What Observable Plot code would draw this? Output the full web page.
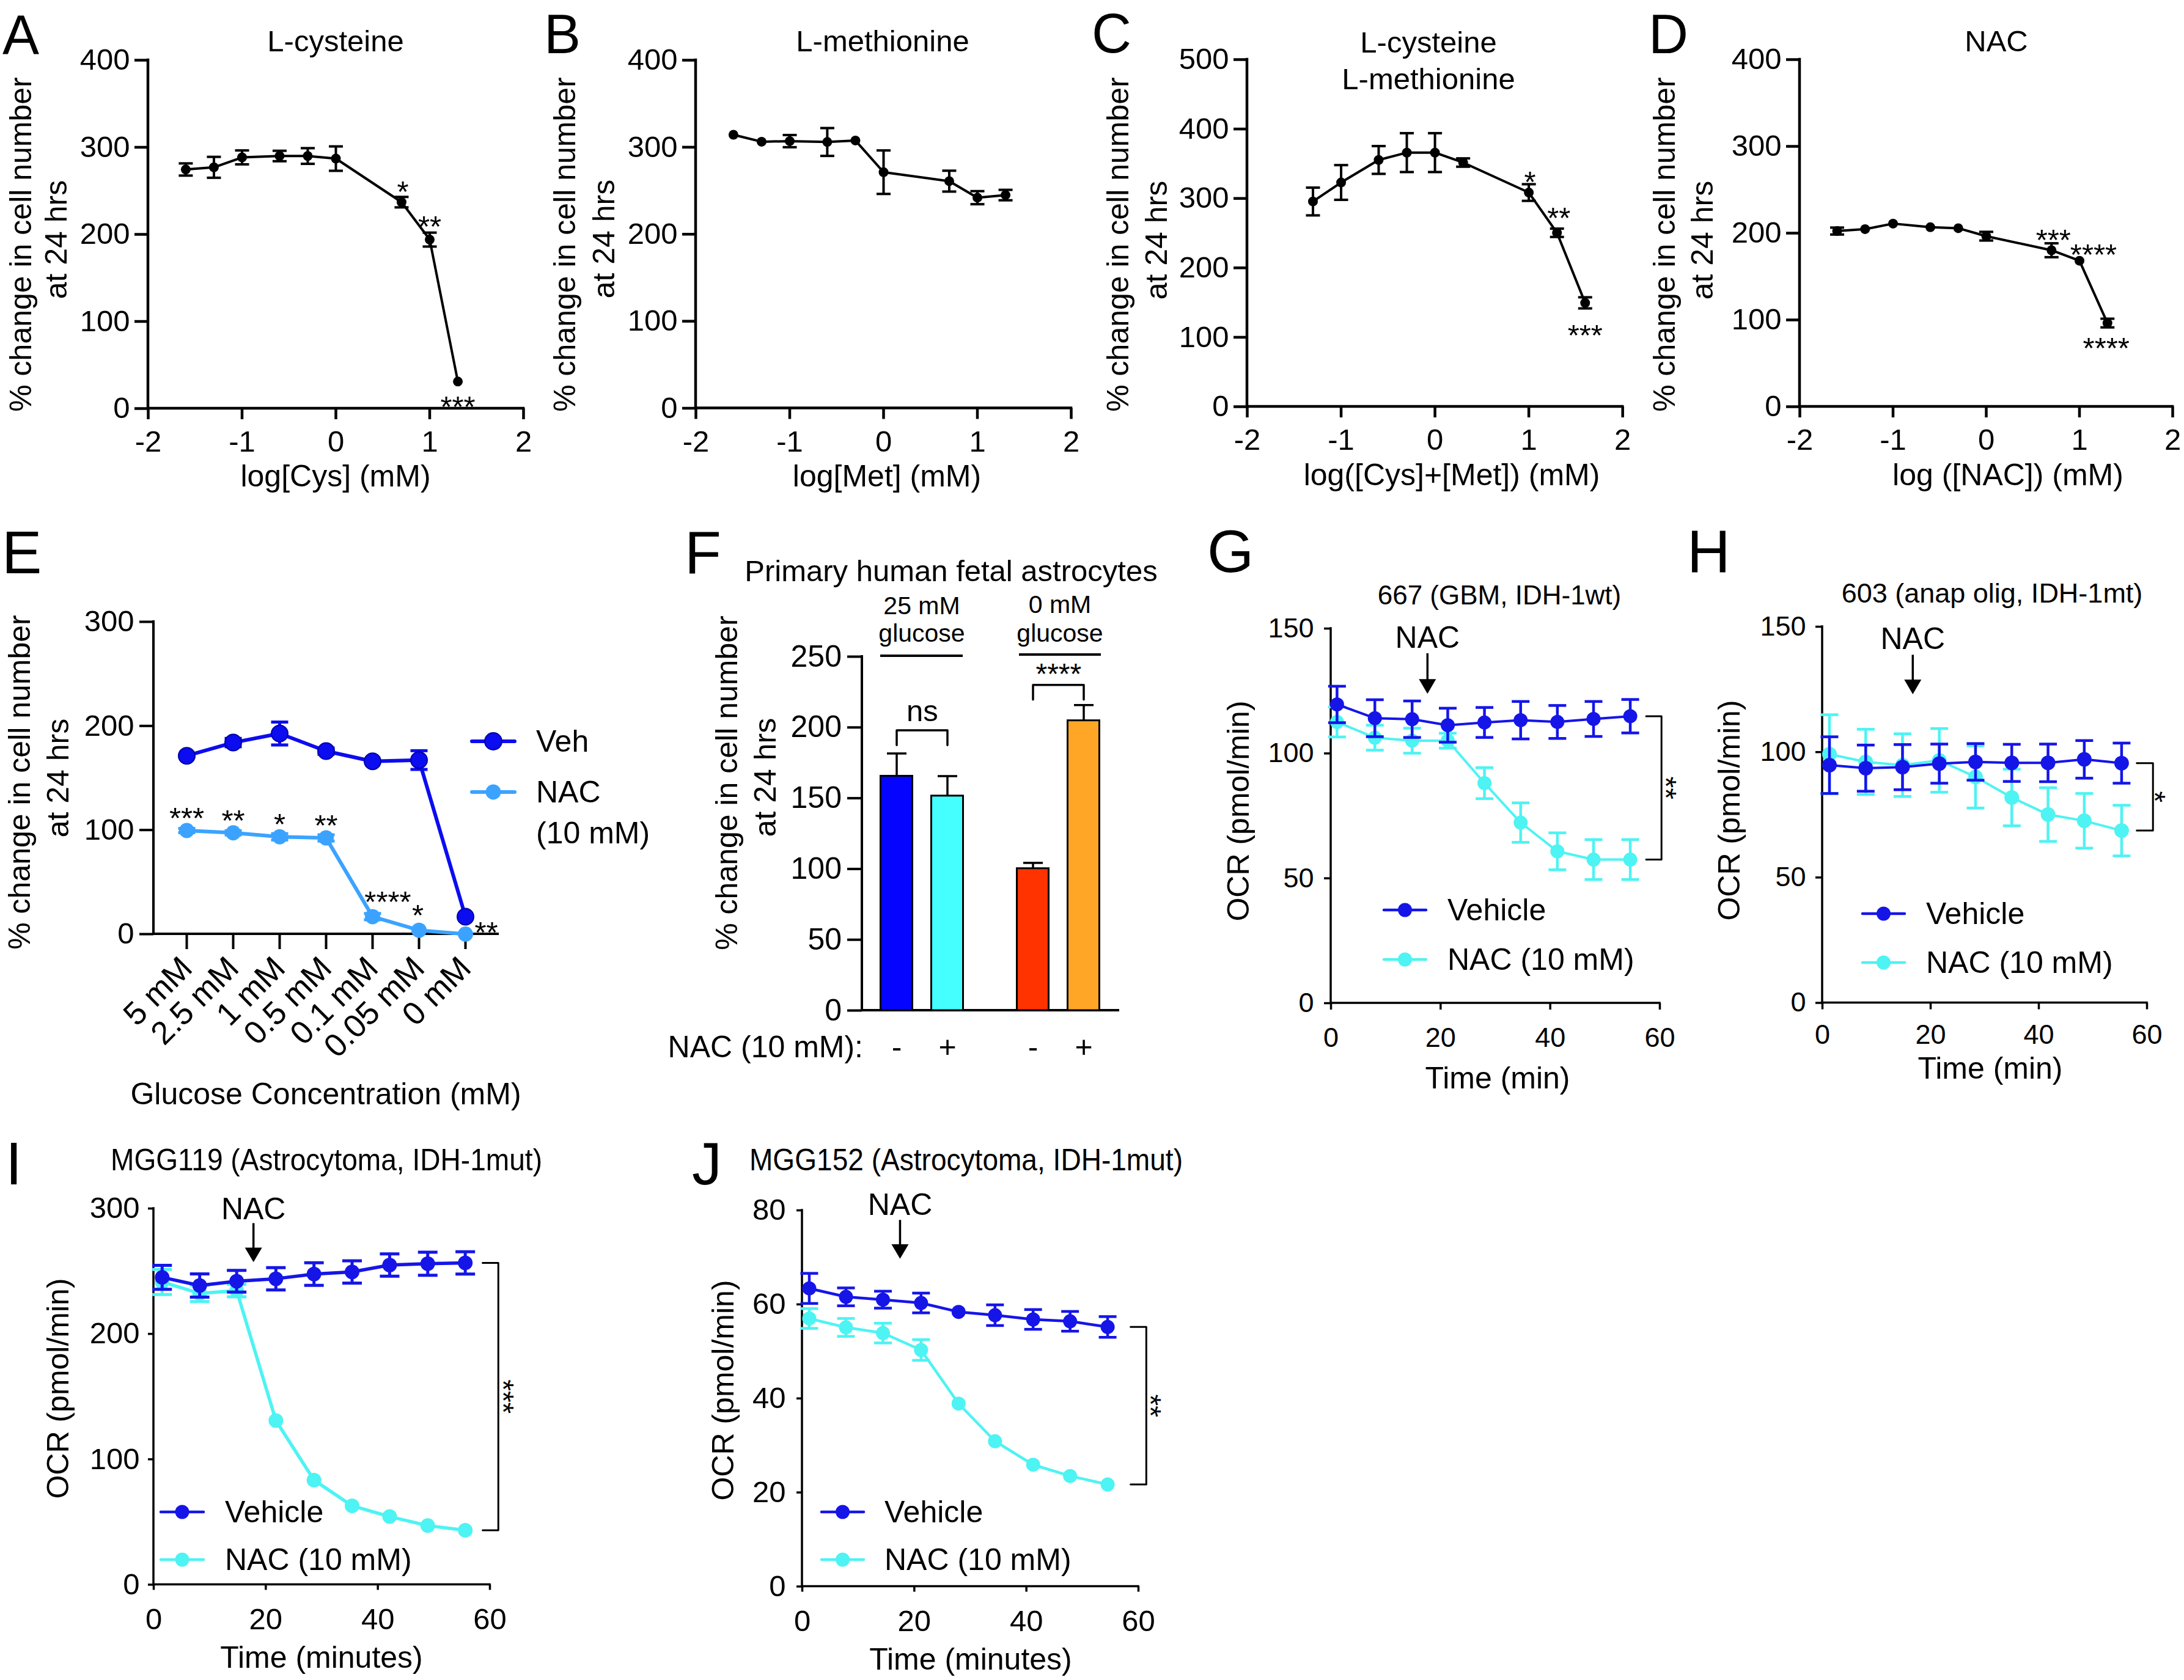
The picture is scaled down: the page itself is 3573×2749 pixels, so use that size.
<!DOCTYPE html>
<html>
<head>
<meta charset="utf-8">
<script src="https://cdn.jsdelivr.net/npm/d3@7"></script>
<script src="https://cdn.jsdelivr.net/npm/@observablehq/plot@0.6"></script>
<style>
html,body{margin:0;padding:0;background:#fff;}
#page{position:relative;width:3573px;height:2749px;overflow:hidden;background:#fff;}
</style>
</head>
<body>
<div id="page"></div>
<script>
// ================= DATA =================
// A–D: % change in cell number at 24 hrs vs log10 concentration (mM)
const logCys    = [-1.6, -1.3, -1, -0.6, -0.3, 0, 0.7, 1, 1.3];
const cysMean   = [274.5, 277, 288.4, 290, 290, 287, 237, 194, 31];
const cysSem    = [7, 12, 8, 6, 9, 14, 6, 8, 0];
const logMet    = [-1.6, -1.3, -1, -0.6, -0.3, 0, 0.7, 1, 1.3];
const metMean   = [314.3, 306.3, 307, 306, 307.7, 271.3, 261, 242, 245];
const metSem    = [0, 0, 7, 16, 0, 25, 12, 7.5, 6];
const logCysMet = [-1.3, -1, -0.6, -0.3, 0, 0.3, 1, 1.3, 1.6];
const cysMetMean= [295.6, 323, 355.4, 366, 366, 351.7, 308.5, 250.5, 149.6];
const cysMetSem = [20, 25, 20, 28, 28, 6, 12, 6, 8];
const logNac    = [-1.6, -1.3, -1, -0.6, -0.3, 0, 0.7, 1, 1.3];
const nacMean   = [202.4, 204.6, 211, 206.8, 205.7, 196.5, 180.3, 168.2, 96.4];
const nacSem    = [4, 0, 0, 0, 0, 5, 8, 0, 5];
const starsA = [{x: 0.7, label: "*"}, {x: 1, label: "**"}, {x: 1.3, label: "***"}];
const starsC = [{x: 1, label: "*"}, {x: 1.3, label: "**"}, {x: 1.6, label: "***"}];
const starsD = [{x: 0.7, label: "***"}, {x: 1, label: "****"}, {x: 1.3, label: "****"}];

// E: glucose concentration
const glucose  = ["5 mM", "2.5 mM", "1 mM", "0.5 mM", "0.1 mM", "0.05 mM", "0 mM"];
const eVeh     = [171.3, 184, 192.7, 175.8, 166, 167.2, 16.8];
const eVehSem  = [0, 4, 11, 3, 0, 9, 0];
const eNac     = [99.5, 97.3, 93.5, 92.4, 16.8, 3.7, 0];
const eNacSem  = [2, 2, 3, 3, 3, 0, 0];
const starsE   = ["***", "**", "*", "**", "****", "*", "**"];

// F: primary human fetal astrocytes
const fGroups = ["25 mM", "0 mM"];
const fNac    = ["-", "+"];
const fMean   = [[165.6, 151.6], [100.3, 204.8]];
const fSem    = [[16, 14], [4, 11]];
const fSig    = [{label: "ns", top: 198, foot: 187.5}, {label: "****", top: 230, foot: 219.7}];

// G–J: OCR time courses
const tG = [1.1, 8, 14.8, 21.3, 28, 34.6, 41.3, 47.9, 54.6];
const gVeh = [119.6, 114.1, 113.7, 111.3, 112.4, 113.3, 112.6, 113.8, 114.9];
const gVehSem = [7.3, 7.4, 7.3, 6.8, 6, 7.5, 6.6, 7, 6.7];
const gNac = [112.6, 106.3, 105.1, 105.1, 88.1, 72.3, 60.8, 57.5, 57.5];
const gNacSem = [6, 5, 5, 3, 6.2, 7.9, 7.4, 8, 8];

const tH = [1.3, 8, 14.8, 21.6, 28.3, 35, 41.7, 48.4, 55.3];
const hVeh = [94.8, 93.6, 94.0, 95.4, 96.1, 95.7, 95.7, 97.1, 95.6];
const hVehSem = [11.3, 9.2, 9, 7.8, 7.3, 7.4, 7.5, 7.5, 8];
const hNac = [99.2, 96.1, 94.8, 96.7, 90.1, 81.9, 75.1, 72.6, 68.7];
const hNacSem = [15.7, 13, 12.5, 12.7, 12.4, 11.3, 10.7, 10.9, 10.1];

const tI = [1.5, 8.2, 14.8, 21.8, 28.6, 35.4, 42.1, 48.9, 55.6];
const iVeh = [245.1, 238.6, 242, 244, 247.7, 249.4, 254.9, 256, 256.6];
const iVehSem = [9.6, 9.3, 8.6, 8.9, 9, 8.9, 8.9, 9.2, 8.9];
const iNac = [241.4, 232.3, 234.6, 130.9, 83.4, 62.9, 54.3, 47.1, 43.4];
const iNacSem = [10, 6.5, 5, 0, 0, 0, 0, 0, 0];

const tJ = [1.25, 7.8, 14.4, 21.2, 27.9, 34.4, 41.2, 47.8, 54.5];
const jVeh = [63.4, 61.6, 61, 60.3, 58.4, 57.7, 56.8, 56.4, 55.2];
const jVehSem = [3.2, 1.9, 1.8, 2.1, 0, 2.2, 2.1, 2.1, 2.2];
const jNac = [57, 55.1, 53.9, 50.3, 38.9, 30.9, 25.9, 23.5, 21.7];
const jNacSem = [2.1, 1.9, 2.1, 2.2, 0, 0, 0, 0, 0];

// NAC injection annotations (time, data-space arrow top/tip and label baseline)
const arrowG = {t: 17.6, top: 140, tip: 123.9, label: 142.3};
const arrowH = {t: 16.7, top: 138.7, tip: 123.1, label: 141.2};
const arrowI = {t: 17.8, top: 288.1, tip: 257.2, label: 291.5};
const arrowJ = {t: 17.45, top: 77.9, tip: 69.7, label: 79.0};

// ================= STYLE / LAYOUT =================
const FONT = `"Liberation Sans", Arial, Helvetica, sans-serif`;
const BLACK = "#000";
const VEH = "#1515e8", NACC = "#4ef3f3";
const E_VEH = "#0c0cf0", E_NAC = "#3ba3ff";
const fColors = [["#0505ff", "#45ffff"], ["#ff3300", "#ffa626"]];
const M = {l: 200, r: 120, t: 80, b: 170};
const frames = {
  A: {l: 242, r: 856, t: 98, b: 668},
  B: {l: 1138, r: 1752, t: 97.5, b: 667},
  C: {l: 2039.5, r: 2653.7, t: 97, b: 665},
  D: {l: 2944, r: 3554, t: 97, b: 665},
  E: {l: 251, r: 814, t: 1017, b: 1528},
  F: {l: 1410, r: 1829, t: 1074, b: 1653},
  G: {l: 2177, r: 2715, t: 1028, b: 1641},
  H: {l: 2981, r: 3512, t: 1024.5, b: 1640},
  I: {l: 251, r: 801, t: 1976.5, b: 2592},
  J: {l: 1312, r: 1862, t: 1979.5, b: 2595}
};
const page = document.getElementById("page");

const capSym = {draw(ctx, size) { const r = Math.sqrt(size / Math.PI); ctx.moveTo(-r, 0); ctx.lineTo(r, 0); }};
const triDown = {draw(ctx, size) { const r = Math.sqrt(size / Math.PI); const h = 1.7 * r; ctx.moveTo(-r, -h); ctx.lineTo(r, -h); ctx.lineTo(0, 0); ctx.closePath(); }};

function axisLines(sw) {
  return (index, scales, values, dim) => {
    const g = d3.create("svg:g");
    const x0 = dim.marginLeft, x1 = dim.width - dim.marginRight;
    const y0 = dim.marginTop, y1 = dim.height - dim.marginBottom;
    g.append("path").attr("d", `M${x0},${y0}V${y1}H${x1}`).attr("fill", "none")
      .attr("stroke", BLACK).attr("stroke-width", sw).attr("stroke-linecap", "square");
    return g.node();
  };
}

function mk(frame, opts, fs) {
  const width = frame.r - frame.l + M.l + M.r;
  const height = frame.b - frame.t + M.t + M.b;
  const svg = Plot.plot({
    width, height, marginLeft: M.l, marginRight: M.r, marginTop: M.t, marginBottom: M.b,
    style: `font-family:${FONT};font-size:${fs}px;color:#000;background:transparent;overflow:visible;max-width:none;`,
    ...opts
  });
  const div = document.createElement("div");
  div.style.cssText = `position:absolute;left:${frame.l - M.l}px;top:${frame.t - M.t}px;width:${width}px;height:${height}px;`;
  div.appendChild(svg);
  page.appendChild(div);
  return svg;
}

function seriesMarks(rows, st) {
  const err = rows.filter(d => d.e > 0);
  return [
    Plot.ruleX(err, {x: "x", y1: d => d.y - d.e, y2: d => d.y + d.e, stroke: st.color, strokeWidth: st.ew}),
    Plot.dot(err, {x: "x", y: d => d.y + d.e, symbol: capSym, r: st.cap, stroke: st.color, strokeWidth: st.ew, fill: "none"}),
    Plot.dot(err, {x: "x", y: d => d.y - d.e, symbol: capSym, r: st.cap, stroke: st.color, strokeWidth: st.ew, fill: "none"}),
    Plot.line(rows, {x: "x", y: "y", stroke: st.color, strokeWidth: st.lw}),
    Plot.dot(rows, {x: "x", y: "y", r: st.r, fill: st.color, stroke: st.dotStroke || "none", strokeWidth: st.dotStroke ? 2 : 0})
  ];
}

// ---------- A–D ----------
function dosePanel(key, xs, ys, es, yTicks, stars, offsets) {
  const rows = xs.map((x, i) => ({x, y: ys[i], e: es[i]}));
  const starMarks = stars.map((s, i) => Plot.text([{x: s.x, y: ys[xs.indexOf(s.x)], label: s.label}],
    {x: "x", y: "y", text: "label", dx: offsets[i][0], dy: offsets[i][1], fontSize: 49}));
  mk(frames[key], {
    x: {domain: [-2, 2]},
    y: {domain: [yTicks[0], yTicks[yTicks.length - 1]]},
    marks: [
      axisLines(4.5),
      Plot.axisY({ticks: yTicks, tickSize: 22, tickPadding: 8, strokeWidth: 4.5, fontSize: 49, label: null}),
      Plot.axisX({ticks: [-2, -1, 0, 1, 2], tickSize: 18, tickPadding: 18, strokeWidth: 4.5, fontSize: 49, label: null, tickFormat: d => String(d)}),
      ...seriesMarks(rows, {color: BLACK, ew: 4, cap: 11.5, lw: 4, r: 8}),
      ...starMarks
    ]
  }, 49);
}
dosePanel("A", logCys, cysMean, cysSem, [0, 100, 200, 300, 400], starsA, [[2, -16], [0, -20.5], [0, 41.5]]);
dosePanel("B", logMet, metMean, metSem, [0, 100, 200, 300, 400], [], []);
dosePanel("C", logCysMet, cysMetMean, cysMetSem, [0, 100, 200, 300, 400, 500], starsC, [[2, -16.7], [3, -24], [0, 54]]);
dosePanel("D", logNac, nacMean, nacSem, [0, 100, 200, 300, 400], starsD, [[3, -16.5], [23, -9.5], [-2, 41.8]]);

// ---------- E ----------
{
  const veh = glucose.map((c, i) => ({x: c, y: eVeh[i], e: eVehSem[i]}));
  const nac = glucose.map((c, i) => ({x: c, y: eNac[i], e: eNacSem[i]}));
  const starOff = [[0, -19.5], [0, -19.5], [0, -19.5], [0, -19.5], [25, -23.5], [-2, -23.5], [34, -2.5]];
  const stars = glucose.map((c, i) => Plot.text([{x: c, y: eNac[i], label: starsE[i]}],
    {x: "x", y: "y", text: "label", dx: starOff[i][0], dy: starOff[i][1], fontSize: 49}));
  mk(frames.E, {
    x: {type: "point", domain: glucose, padding: 0.675},
    y: {domain: [0, 300]},
    marks: [
      axisLines(4),
      Plot.axisY({ticks: [0, 100, 200, 300], tickSize: 23, tickPadding: 9, strokeWidth: 4, fontSize: 49, label: null}),
      Plot.axisX({tickRotate: -45, tickSize: 25, tickPadding: 22, strokeWidth: 4, fontSize: 53, label: null}),
      ...seriesMarks(nac, {color: E_NAC, ew: 5, cap: 14, lw: 6, r: 12.5}),
      ...seriesMarks(veh, {color: E_VEH, ew: 5, cap: 14, lw: 6, r: 13.5, dotStroke: "#0000a8"}),
      ...stars
    ]
  }, 49);
}

// ---------- F ----------
{
  const padIn = 0.37, padOut = 0.69, shift = 28.5;
  const fr = frames.F;
  const step = (fr.r - fr.l) / (4 - padIn + 2 * padOut);
  const rows = fGroups.flatMap((g, gi) => fNac.map((n, ni) => ({
    group: g, nac: n, cond: g + " " + n, value: fMean[gi][ni], e: fSem[gi][ni], color: fColors[gi][ni]
  })));
  const marks = [axisLines(4),
    Plot.axisY({ticks: [0, 50, 100, 150, 200, 250], tickSize: 24, tickPadding: 9.5, strokeWidth: 4, fontSize: 50, label: null})];
  fGroups.forEach((g, gi) => {
    const dx = gi === 0 ? -shift : shift;
    const gr = rows.filter(d => d.group === g);
    const s = fSig[gi];
    marks.push(
      Plot.barY(gr, {x: "cond", y: "value", fill: "color", stroke: BLACK, strokeWidth: 3, dx}),
      Plot.ruleX(gr, {x: "cond", y1: "value", y2: d => d.value + d.e, stroke: BLACK, strokeWidth: 3.5, dx}),
      Plot.dot(gr, {x: "cond", y: d => d.value + d.e, symbol: capSym, r: 16, stroke: BLACK, strokeWidth: 3.5, fill: "none", dx}),
      Plot.text(gr, {x: "cond", text: "nac", frameAnchor: "bottom", lineAnchor: "middle", dy: 60, fontSize: 50, dx}),
      Plot.line([{c: gr[0].cond, y: s.foot}, {c: gr[0].cond, y: s.top}, {c: gr[1].cond, y: s.top}, {c: gr[1].cond, y: s.foot}],
        {x: "c", y: "y", stroke: BLACK, strokeWidth: 3.5, dx}),
      Plot.text([{c: gr[0].cond, y: s.top, label: s.label}],
        {x: "c", y: "y", text: "label", lineAnchor: "bottom", dx: dx + step / 2, dy: gi === 0 ? -15 : -2, fontSize: gi === 0 ? 49 : 48})
    );
  });
  mk(fr, {
    x: {type: "band", domain: rows.map(d => d.cond), paddingInner: padIn, paddingOuter: padOut, axis: null},
    y: {domain: [0, 250]},
    color: {type: "identity"},
    marks
  }, 50);
}

// ---------- G–J ----------
function timePanel(key, c) {
  const veh = c.t.map((t, i) => ({x: t, y: c.veh[i], e: c.vehSem[i]}));
  const nac = c.t.map((t, i) => ({x: t, y: c.nac[i], e: c.nacSem[i]}));
  const last = c.t.length - 1;
  const bTop = c.veh[last], bBot = c.nac[last];
  const b = c.bracket;
  mk(frames[key], {
    x: {domain: [0, 60]},
    y: {domain: [0, c.yTicks[c.yTicks.length - 1]]},
    marks: [
      axisLines(3.5),
      Plot.axisY({ticks: c.yTicks, tickSize: c.tick, tickPadding: c.padY, strokeWidth: 3.5, fontSize: c.fs, label: null}),
      Plot.axisX({ticks: [0, 20, 40, 60], tickSize: c.tick, tickPadding: c.padX, strokeWidth: 3.5, fontSize: c.fs, label: null}),
      ...seriesMarks(nac, {color: NACC, ew: c.ew, cap: c.cap, lw: c.lw, r: c.r}),
      ...seriesMarks(veh, {color: VEH, ew: c.ew, cap: c.cap, lw: c.lw, r: c.r}),
      Plot.ruleX([c.arrow], {x: "t", y1: "top", y2: "tip", stroke: BLACK, strokeWidth: 3.5, insetBottom: 14}),
      Plot.dot([c.arrow], {x: "t", y: "tip", symbol: triDown, r: 14, fill: BLACK, stroke: "none"}),
      Plot.text([c.arrow], {x: "t", y: "label", text: () => "NAC", lineAnchor: "bottom", fontSize: 50}),
      Plot.line([{x: b.x1, y: bTop}, {x: b.x2, y: bTop}, {x: b.x2, y: bBot}, {x: b.x1, y: bBot}],
        {x: "x", y: "y", stroke: BLACK, strokeWidth: 3}),
      Plot.text([{x: b.lx, y: (bTop + bBot) / 2, s: b.label}], {x: "x", y: "y", text: "s", rotate: 90, dx: -11.5, fontSize: 48})
    ]
  }, c.fs);
}
timePanel("G", {t: tG, veh: gVeh, vehSem: gVehSem, nac: gNac, nacSem: gNacSem, yTicks: [0, 50, 100, 150],
  tick: 11, padY: 17, padX: 29, fs: 45, ew: 4.5, cap: 14.5, lw: 4, r: 11.5, arrow: arrowG,
  bracket: {x1: 57.5, x2: 60.3, lx: 62.3, label: "**"}});
timePanel("H", {t: tH, veh: hVeh, vehSem: hVehSem, nac: hNac, nacSem: hNacSem, yTicks: [0, 50, 100, 150],
  tick: 11, padY: 16, padX: 24, fs: 45, ew: 4.5, cap: 14.5, lw: 4, r: 12, arrow: arrowH,
  bracket: {x1: 58.1, x2: 61.1, lx: 62.6, label: "*"}});
timePanel("I", {t: tI, veh: iVeh, vehSem: iVehSem, nac: iNac, nacSem: iNacSem, yTicks: [0, 100, 200, 300],
  tick: 9, padY: 14, padX: 29, fs: 49, ew: 5, cap: 16, lw: 5.5, r: 12, arrow: arrowI,
  bracket: {x1: 58.7, x2: 61.5, lx: 63.5, label: "***"}});
timePanel("J", {t: tJ, veh: jVeh, vehSem: jVehSem, nac: jNac, nacSem: jNacSem, yTicks: [0, 20, 40, 60, 80],
  tick: 9, padY: 18, padX: 29, fs: 49, ew: 4.5, cap: 14.5, lw: 4.5, r: 11.5, arrow: arrowJ,
  bracket: {x1: 58.6, x2: 61.4, lx: 63.3, label: "**"}});

// ================= TEXT OVERLAY (titles, labels, legends) =================
const OV = d3.select(page).append("svg").attr("width", 3573).attr("height", 2749)
  .style("position", "absolute").style("left", "0px").style("top", "0px").style("font-family", FONT);
function txt(x, y, s, size, o = {}) {
  const t = OV.append("text").attr("x", x).attr("y", y).attr("font-size", size).attr("fill", BLACK).text(s);
  if (o.anchor) t.attr("text-anchor", o.anchor);
  if (o.mid) t.attr("dominant-baseline", "central");
  if (o.rotate) t.attr("transform", `rotate(${o.rotate},${x},${y})`);
  if (o.len) t.attr("textLength", o.len).attr("lengthAdjust", "spacingAndGlyphs");
  return t;
}
// panel letters
[["A", 4, 88, 90], ["B", 890, 87, 90], ["C", 1786, 86, 90], ["D", 2697, 87, 90],
 ["E", 3, 938, 98], ["F", 1120, 938, 98], ["G", 1975, 936, 98], ["H", 2760, 936, 98],
 ["I", 9, 1938, 98], ["J", 1132, 1938, 98]].forEach(([s, x, y, f]) => txt(x, y, s, f));
// titles
txt(549, 84, "L-cysteine", 49, {anchor: "middle"});
txt(1444, 84, "L-methionine", 49, {anchor: "middle"});
txt(2337, 86, "L-cysteine", 49, {anchor: "middle"});
txt(2337, 146, "L-methionine", 49, {anchor: "middle"});
txt(3266, 84, "NAC", 49, {anchor: "middle"});
txt(1556, 951, "Primary human fetal astrocytes", 49, {anchor: "middle"});
txt(1508, 1005, "25 mM", 41, {anchor: "middle"});
txt(1508, 1050, "glucose", 41, {anchor: "middle"});
txt(1734, 1003, "0 mM", 41, {anchor: "middle"});
txt(1734, 1050, "glucose", 41, {anchor: "middle"});
OV.append("line").attr("x1", 1440).attr("x2", 1575).attr("y1", 1073).attr("y2", 1073).attr("stroke", BLACK).attr("stroke-width", 4);
OV.append("line").attr("x1", 1667).attr("x2", 1801).attr("y1", 1071).attr("y2", 1071).attr("stroke", BLACK).attr("stroke-width", 4);
txt(1412, 1713, "NAC (10 mM):", 50, {anchor: "end", mid: true});
txt(2453, 989, "667 (GBM, IDH-1wt)", 44, {anchor: "middle"});
txt(3259, 986, "603 (anap olig, IDH-1mt)", 45, {anchor: "middle"});
txt(181, 1915, "MGG119 (Astrocytoma, IDH-1mut)", 50, {len: 706});
txt(1226, 1915, "MGG152 (Astrocytoma, IDH-1mut)", 50, {len: 709});
// y-axis labels
const yl1 = "% change in cell number", yl2 = "at 24 hrs";
[[34, 400, 92, 392], [924, 400, 988, 391], [1829, 400, 1892, 393], [2723, 400, 2785, 393],
 [32, 1280, 95, 1273], [1189, 1281, 1252, 1272]].forEach(([x1, y1, x2, y2]) => {
  txt(x1, y1, yl1, 50, {anchor: "middle", mid: true, rotate: -90});
  txt(x2, y2, yl2, 50, {anchor: "middle", mid: true, rotate: -90});
});
[[2026, 1327], [2829, 1326], [95, 2272], [1183, 2275]].forEach(([x, y]) =>
  txt(x, y, "OCR (pmol/min)", 50, {anchor: "middle", mid: true, rotate: -90}));
// x-axis labels
txt(549, 779, "log[Cys] (mM)", 50, {anchor: "middle", mid: true});
txt(1451, 779, "log[Met] (mM)", 50, {anchor: "middle", mid: true});
txt(2375, 777, "log([Cys]+[Met]) (mM)", 50, {anchor: "middle", mid: true});
txt(3285, 777, "log ([NAC]) (mM)", 50, {anchor: "middle", mid: true});
txt(533, 1790, "Glucose Concentration (mM)", 50, {anchor: "middle", mid: true});
txt(2450, 1764, "Time (min)", 50, {anchor: "middle", mid: true});
txt(3256, 1748, "Time (min)", 50, {anchor: "middle", mid: true});
txt(526, 2712, "Time (minutes)", 50, {anchor: "middle", mid: true});
txt(1588, 2715, "Time (minutes)", 50, {anchor: "middle", mid: true});
// legends
function legendItem(x1, x2, y, color, r, lw, dotStroke) {
  OV.append("line").attr("x1", x1).attr("x2", x2).attr("y1", y).attr("y2", y)
    .attr("stroke", color).attr("stroke-width", lw).attr("stroke-linecap", "round");
  OV.append("circle").attr("cx", (x1 + x2) / 2).attr("cy", y).attr("r", r).attr("fill", color)
    .attr("stroke", dotStroke || "none").attr("stroke-width", dotStroke ? 2 : 0);
}
legendItem(772, 842, 1213, E_VEH, 14, 6, "#0000a8");
legendItem(772, 842, 1296, E_NAC, 12.5, 6);
txt(877, 1213, "Veh", 50, {mid: true});
txt(877, 1296, "NAC", 50, {mid: true});
txt(877, 1363, "(10 mM)", 50, {mid: true});
[[2264, 2333, 1489, 1570, 2368], [3047, 3116, 1495, 1575, 3151], [263, 333, 2474, 2552, 368], [1344, 1413, 2474, 2552, 1447]]
  .forEach(([x1, x2, yv, yn, tx]) => {
    legendItem(x1, x2, yv, VEH, 11.5, 4.5);
    legendItem(x1, x2, yn, NACC, 11.5, 4.5);
    txt(tx, yv, "Vehicle", 50, {mid: true});
    txt(tx, yn, "NAC (10 mM)", 50, {mid: true});
  });
</script>
</body>
</html>
